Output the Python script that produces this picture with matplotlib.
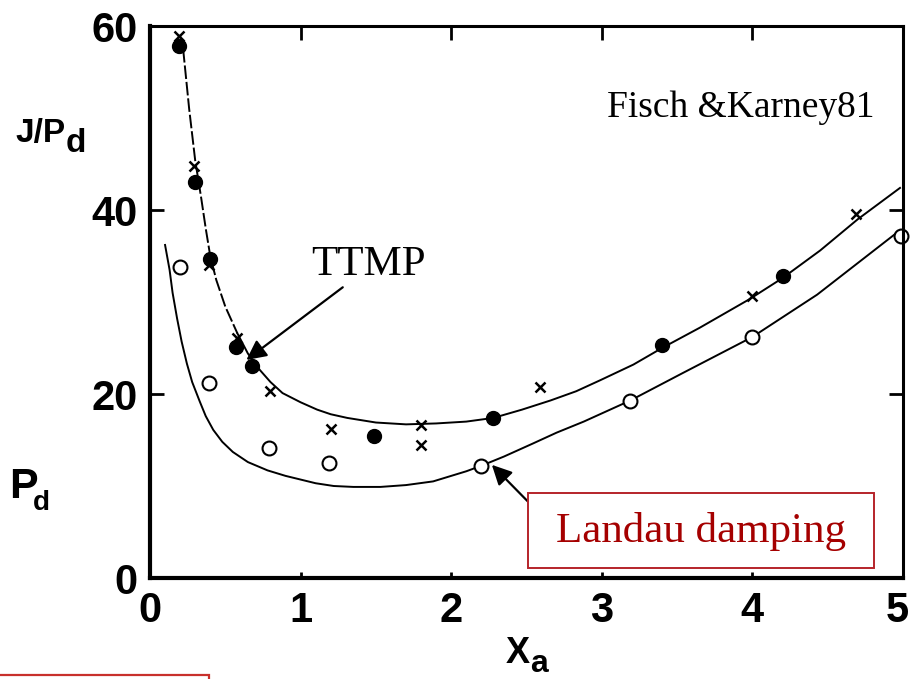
import matplotlib
matplotlib.use("Agg")
import matplotlib.pyplot as plt
import matplotlib.transforms as mtransforms
from matplotlib.patches import Rectangle

filled_x = [0.19, 0.30, 0.40, 0.57, 0.68, 1.49, 2.28, 3.40, 4.20]
filled_y = [57.8, 43.0, 34.7, 25.1, 23.0, 15.4, 17.4, 25.3, 32.8]

cross_x = [0.19, 0.29, 0.39, 0.58, 0.80, 1.20, 1.80, 1.80, 2.59, 4.00, 4.69]
cross_y = [58.9, 44.8, 34.0, 26.1, 20.3, 16.2, 16.6, 14.5, 20.8, 30.7, 39.6]

open_x = [0.20, 0.39, 0.79, 1.19, 2.20, 3.19, 4.00, 4.99]
open_y = [33.8, 21.2, 14.1, 12.5, 12.2, 19.2, 26.2, 37.2]

# TTMP fit curve
ttmp_x = [0.22, 0.26, 0.30, 0.34, 0.37, 0.40, 0.44, 0.50, 0.58, 0.65, 0.73, 0.80, 0.88,
          1.00, 1.11, 1.20, 1.31, 1.50, 1.70, 1.90, 2.10, 2.28, 2.47, 2.66, 2.83, 2.99,
          3.21, 3.40, 3.65, 3.98, 4.20, 4.45, 4.70, 4.98]
ttmp_y = [57.5, 51.0, 45.4, 41.3, 38.0, 35.0, 32.4, 29.5, 26.6, 24.4, 22.6, 21.3, 20.1,
          19.1, 18.3, 17.8, 17.4, 16.9, 16.7, 16.8, 17.0, 17.4, 18.3, 19.3, 20.3, 21.5,
          23.2, 25.0, 27.2, 30.3, 32.6, 35.6, 39.0, 42.4]

# Landau damping fit curve
landau_x = [0.10, 0.13, 0.15, 0.18, 0.21, 0.245, 0.28, 0.33, 0.37, 0.42, 0.48, 0.55, 0.65,
            0.78, 0.90, 1.00, 1.10, 1.22, 1.35, 1.53, 1.70, 1.88, 2.00, 2.10, 2.20, 2.35,
            2.54, 2.70, 2.88, 3.19, 3.54, 4.00, 4.43, 4.98]
landau_y = [36.2, 33.5, 31.0, 28.2, 25.7, 23.3, 21.3, 19.2, 17.6, 16.1, 14.8, 13.7, 12.6,
            11.7, 11.1, 10.7, 10.3, 10.0, 9.9, 9.9, 10.1, 10.5, 11.1, 11.6, 12.2, 13.2,
            14.6, 15.8, 17.0, 19.3, 22.3, 26.2, 30.8, 37.8]

xticks = [0, 1, 2, 3, 4, 5]
yticks = [0, 20, 40, 60]

SANS = ["Liberation Sans", "DejaVu Sans"]
SERIF = ["Liberation Serif", "DejaVu Serif"]
RED_TEXT = "#a50000"
RED_BOX = "#b5242a"

fig = plt.figure(figsize=(9.11, 6.79), dpi=100)
ax = fig.add_axes([150 / 911, 101 / 679, 753 / 911, 552 / 679])

# curves
n_dash = 8
ax.plot(ttmp_x[:n_dash + 1], ttmp_y[:n_dash + 1], color="black", lw=1.4, dashes=(7, 1.5))
ax.plot(ttmp_x[n_dash:], ttmp_y[n_dash:], color="black", lw=1.4)
ax.plot(landau_x, landau_y, color="black", lw=1.4)

# markers
ax.plot(filled_x, filled_y, "o", color="black", ms=10, clip_on=False)
ax.plot(cross_x, cross_y, "x", color="black", ms=7, mew=1.8, clip_on=False)
ax.plot(open_x, open_y, "o", mfc="white", mec="black", ms=10, mew=1.5, clip_on=False)

ax.set_xlim(0, 5)
ax.set_ylim(0, 60)
ax.set_xticks(xticks)
ax.set_yticks(yticks)
ax.set_xticklabels([str(t) for t in xticks])
ax.set_yticklabels([str(t) for t in yticks])

for side in ["left", "bottom"]:
    ax.spines[side].set_linewidth(3)
for side in ["top", "right"]:
    ax.spines[side].set_linewidth(2.2)

ax.tick_params(direction="in", top=True, right=True, length=10, width=2, colors="black")
ax.tick_params(axis="x", pad=9)
ax.tick_params(axis="y", pad=9)
for tick in ax.xaxis.get_major_ticks():
    tick.tick1line.set_markersize(4)
for lab in ax.get_xticklabels() + ax.get_yticklabels():
    lab.set_fontfamily(SANS)
    lab.set_fontweight("bold")
    lab.set_fontsize(30)

# last x label sits against the right edge of the page, nudge it in a bit
last = ax.get_xticklabels()[-1]
last.set_transform(last.get_transform()
                   + mtransforms.ScaledTranslation(-6 / 100, 0, fig.dpi_scale_trans))

# axis labels
fig.text(15 / 911, 1 - 142 / 679, "J/P", family=SANS, weight="bold", fontsize=24,
         va="baseline")
fig.text(66 / 911, 1 - 152 / 679, "d", family=SANS, weight="bold", fontsize=24,
         va="baseline")
fig.text(9 / 911, 1 - 498 / 679, "P", family=SANS, weight="bold", fontsize=31,
         va="baseline")
fig.text(33 / 911, 1 - 510 / 679, "d", family=SANS, weight="bold", fontsize=20,
         va="baseline")
fig.text(506 / 911, 1 - 663 / 679, "X", family=SANS, weight="bold", fontsize=26,
         va="baseline")
fig.text(530 / 911, 1 - 672 / 679, "a", family=SANS, weight="bold", fontsize=23,
         va="baseline")

# annotations
ax.text(4.81, 50.1, "Fisch &Karney81", family=SERIF, fontsize=27, ha="right", va="baseline")
ax.text(1.45, 32.9, "TTMP", family=SERIF, fontsize=31, ha="center", va="baseline")
ax.annotate("", xy=(0.64, 23.7), xytext=(1.28, 31.6),
            arrowprops=dict(arrowstyle="-|>", mutation_scale=30, lw=1.6, color="black",
                            shrinkA=0, shrinkB=0))
ax.annotate("", xy=(2.27, 12.3), xytext=(2.51, 8.3),
            arrowprops=dict(arrowstyle="-|>", mutation_scale=30, lw=1.6, color="black",
                            shrinkA=0, shrinkB=0))
ax.add_patch(Rectangle((2.51, 1.09), 2.30, 8.15, fill=True, facecolor="white",
                       edgecolor=RED_BOX, lw=1.4, zorder=5))
ax.text(3.66, 3.9, "Landau damping", family=SERIF, fontsize=31, color=RED_TEXT,
        ha="center", va="baseline", zorder=6)

# empty red box cut by the lower-left corner
fig.patches.append(Rectangle((-0.01, -0.05), 218 / 911, 0.05 + 4 / 679,
                             transform=fig.transFigure, fill=False,
                             edgecolor="#c8302c", lw=1.6))

fig.savefig("out.png", dpi=100)
